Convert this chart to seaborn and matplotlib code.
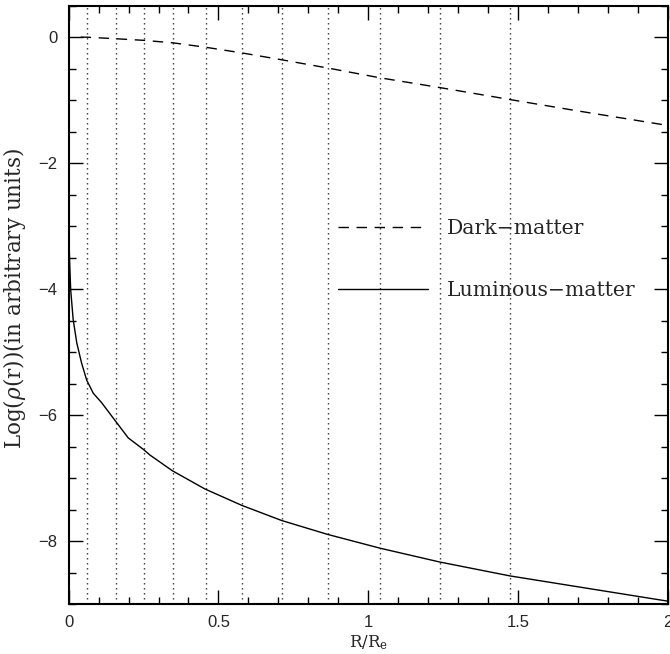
import numpy as np
import pandas as pd
import matplotlib
matplotlib.use("Agg")
import matplotlib.pyplot as plt
import seaborn as sns
from matplotlib.ticker import MultipleLocator

# --- data ---
dark_r = [0.04, 0.062, 0.159, 0.251, 0.349, 0.458, 0.579, 0.713, 0.866, 1.04, 1.24, 1.474, 1.70, 2.0]
dark_logrho = [0.0, 0.0, -0.025, -0.05, -0.09, -0.16, -0.25, -0.36, -0.49, -0.645, -0.80, -0.99, -1.17, -1.40]

lum_r = [0.0, 0.0035, 0.0067, 0.015, 0.027, 0.043, 0.060, 0.082, 0.110, 0.148, 0.199, 0.249,
         0.271, 0.346, 0.455, 0.578, 0.711, 0.864, 1.04, 1.24, 1.474, 1.75, 2.0]
lum_logrho = [-3.05, -3.6, -4.01, -4.48, -4.85, -5.17, -5.44, -5.65, -5.80, -6.04, -6.36, -6.54,
              -6.63, -6.88, -7.17, -7.43, -7.67, -7.89, -8.11, -8.33, -8.55, -8.76, -8.95]

shell_r = [0.062, 0.159, 0.251, 0.349, 0.458, 0.579, 0.713, 0.866, 1.04, 1.24, 1.474]

x_ticks = [0, 0.5, 1, 1.5, 2]
x_ticklabels = ["0", "0.5", "1", "1.5", "2"]
y_ticks = [0, -2, -4, -6, -8]
y_ticklabels = ["0", "\u22122", "\u22124", "\u22126", "\u22128"]

labels = ["Dark\u2212matter", "Luminous\u2212matter"]

sns.set_theme(style="ticks")
plt.rcParams["font.family"] = ["DejaVu Serif"]
plt.rcParams["mathtext.fontset"] = "dejavuserif"

df_dark = pd.DataFrame({"r": dark_r, "v": dark_logrho})
df_lum = pd.DataFrame({"r": lum_r, "v": lum_logrho})

fig = plt.figure(figsize=(6.70, 6.54), dpi=100)
ax = fig.add_axes([0.1025, 0.076, 0.894, 0.9153])

for xr in shell_r:
    ax.axvline(xr, color="0.2", lw=1.0, linestyle=(0, (1, 2.6)), zorder=1)

sns.lineplot(data=df_dark, x="r", y="v", ax=ax, color="black", lw=1.0,
             sort=False, estimator=None, label=labels[0])
ax.lines[-1].set_linestyle((0, (7.5, 5.5)))
sns.lineplot(data=df_lum, x="r", y="v", ax=ax, color="black", lw=1.0,
             sort=False, estimator=None, label=labels[1])

ax.set_xlim(0, 2)
ax.set_ylim(-9.0, 0.5)
ax.set_xticks(x_ticks)
ax.set_xticklabels(x_ticklabels, family="Liberation Sans", fontsize=12)
ax.set_yticks(y_ticks)
ax.set_yticklabels(y_ticklabels, family="Liberation Sans", fontsize=12)
ax.xaxis.set_minor_locator(MultipleLocator(0.1))
ax.yaxis.set_minor_locator(MultipleLocator(0.5))
ax.tick_params(which="both", direction="in", top=True, right=True, color="black", width=1.0)
ax.tick_params(which="major", length=10)
ax.tick_params(which="minor", length=5)
ax.tick_params(axis="y", which="major", pad=8)
ax.tick_params(axis="x", which="major", pad=8)
for s in ax.spines.values():
    s.set_linewidth(1.5)
    s.set_color("black")

ax.set_xlabel("R/R$_\\mathregular{e}$", fontsize=12, labelpad=2)
ax.set_ylabel("Log($\\rho$(r))(in arbitrary units)", fontsize=15.5)
ax.yaxis.set_label_coords(-0.068, 0.511)

leg = ax.legend(loc="upper left", bbox_to_anchor=(0.4496, 0.6437), frameon=False,
                fontsize=14.7, handlelength=4.4, handletextpad=0.93, labelspacing=2.1,
                borderpad=0, borderaxespad=0)
for line in leg.get_lines():
    line.set_linewidth(1.0)

fig.savefig("out.png", dpi=100)
